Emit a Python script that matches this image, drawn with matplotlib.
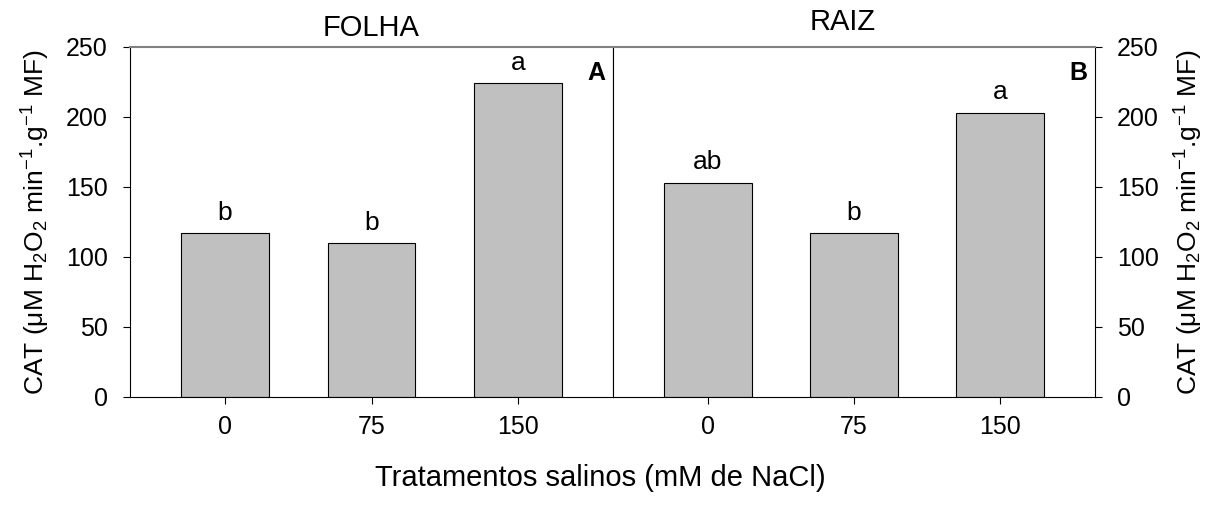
import matplotlib
matplotlib.use('Agg')
import matplotlib.pyplot as plt
import numpy as np

plt.rcParams['font.family'] = ['Liberation Sans', 'DejaVu Sans']
plt.rcParams['mathtext.fontset'] = 'custom'
plt.rcParams['mathtext.rm'] = 'Liberation Sans'
plt.rcParams['mathtext.it'] = 'Liberation Sans:italic'
plt.rcParams['mathtext.bf'] = 'Liberation Sans:bold'

# data
treatments = ['0', '75', '150']
folha = [117, 110, 224]
raiz = [153, 117, 203]
folha_letters = ['b', 'b', 'a']
raiz_letters = ['ab', 'b', 'a']
y_ticks = [0, 50, 100, 150, 200, 250]

ylabel = 'CAT (μM H$_2$O$_2$ min$^{-1}$.g$^{-1}$ MF)'

fig = plt.figure(figsize=(12.22, 5.05), dpi=100)
ax1 = fig.add_axes([130 / 1222, 1 - 397 / 505, 483 / 1222, 350 / 505])
ax2 = fig.add_axes([613 / 1222, 1 - 397 / 505, 482 / 1222, 350 / 505])

x = np.arange(len(treatments))

for ax, vals, letters, tag in [(ax1, folha, folha_letters, 'A'), (ax2, raiz, raiz_letters, 'B')]:
    ax.bar(x, vals, width=0.6, color='#c0c0c0', edgecolor='black', linewidth=0.8)
    for xi, v, l in zip(x, vals, letters):
        ax.text(xi, v + 6, l, ha='center', va='bottom', fontsize=19)
    ax.set_xlim(-0.65, 2.65)
    ax.set_ylim(0, 250)
    ax.set_xticks(x)
    ax.set_xticklabels(treatments)
    ax.set_yticks(y_ticks)
    ax.tick_params(axis='both', direction='out', length=5, width=0.8, labelsize=18)
    ax.tick_params(axis='x', pad=8)
    ax.tick_params(axis='y', pad=11)
    ax.spines['top'].set_color('#808080')
    ax.spines['top'].set_linewidth(1.5)
    ax.text(0.985, 0.96, tag, transform=ax.transAxes, ha='right', va='top',
            fontsize=18, fontweight='bold')

ax1.spines['right'].set_linewidth(0.8)
ax2.spines['left'].set_linewidth(0.8)
ax2.yaxis.tick_right()
ax2.yaxis.set_label_position('right')

ax1.set_ylabel(ylabel, fontsize=19, labelpad=10)
ax2.set_ylabel(ylabel, fontsize=19, labelpad=10)

ax1.set_title('FOLHA', fontsize=21, pad=8)
fig.text(843 / 1222, 1 - 22 / 505, 'RAIZ', ha='center', va='center', fontsize=21)

fig.text(600 / 1222, 1 - 478 / 505, 'Tratamentos salinos (mM de NaCl)',
         ha='center', va='center', fontsize=21)

fig.savefig('out.png', dpi=100)
